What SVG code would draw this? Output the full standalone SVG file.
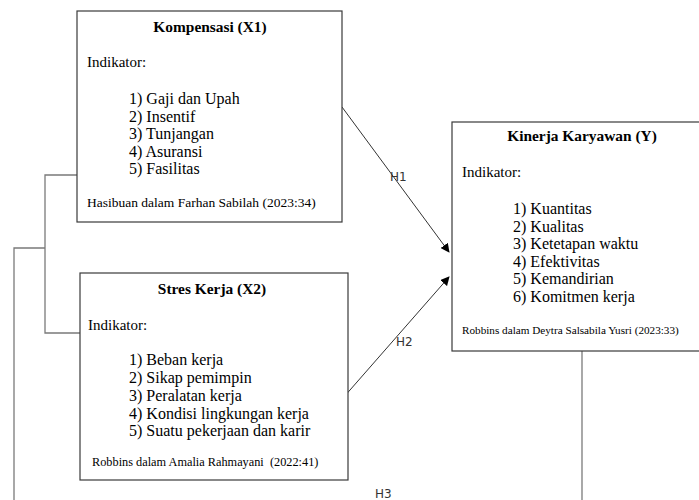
<svg xmlns="http://www.w3.org/2000/svg" width="699" height="500" viewBox="0 0 699 500">
<style>
.box{fill:#fff;stroke:#3a3a3a;stroke-width:1.2}
.t{font-family:'Liberation Serif','Times New Roman',serif;fill:#000}
.title{font-size:15.4px;font-weight:bold;text-anchor:middle}
.ind{font-size:15px}
.lbl{font-size:16px}
.con{fill:none;stroke:#7a7a7a;stroke-width:1.3}
.arr{fill:none;stroke:#333;stroke-width:1;marker-end:url(#ah)}
.h{font-family:'DejaVu Sans',sans-serif;font-size:12px;fill:#333}
</style>
<defs>
<marker id="ah" viewBox="0 0 10 10" refX="9" refY="5" markerWidth="9" markerHeight="9" markerUnits="userSpaceOnUse" orient="auto">
<path d="M0,0 L10,5 L0,10 z" fill="#000"/>
</marker>
</defs>
<g id="connectors">
<polyline class="con" points="77,175 45,175 45,333 80,333"/>
<polyline class="con" points="45,248 14,248 14,500"/>
<line class="con" x1="582" y1="351" x2="582" y2="500"/>
<line class="arr" x1="342" y1="107" x2="449" y2="252"/>
<line class="arr" x1="343" y1="398" x2="449" y2="277"/>
<text class="h" x="390" y="181">H1</text>
<text class="h" x="396" y="346">H2</text>
<text class="h" x="375" y="498" font-size="11px">H3</text>
</g>
<g id="x1">
<rect class="box" x="77" y="11" width="265" height="211"/>
<text class="t title" x="210" y="32">Kompensasi (X1)</text>
<text class="t ind" x="87" y="67">Indikator:</text>
<text class="t lbl" x="129" y="104">1) Gaji dan Upah</text>
<text class="t lbl" x="129" y="122">2) Insentif</text>
<text class="t lbl" x="129" y="139">3) Tunjangan</text>
<text class="t lbl" x="129" y="157">4) Asuransi</text>
<text class="t lbl" x="129" y="174">5) Fasilitas</text>
<text class="t" x="87" y="207" font-size="13.5px">Hasibuan dalam Farhan Sabilah (2023:34)</text>
</g>
<g id="x2">
<rect class="box" x="80" y="273" width="268" height="207"/>
<text class="t title" x="212" y="294">Stres Kerja (X2)</text>
<text class="t ind" x="88" y="330">Indikator:</text>
<text class="t lbl" x="129" y="365">1) Beban kerja</text>
<text class="t lbl" x="129" y="383">2) Sikap pemimpin</text>
<text class="t lbl" x="129" y="401">3) Peralatan kerja</text>
<text class="t lbl" x="129" y="419">4) Kondisi lingkungan kerja</text>
<text class="t lbl" x="129" y="436">5) Suatu pekerjaan dan karir</text>
<text class="t" x="92" y="466" font-size="12.3px" xml:space="preserve">Robbins dalam Amalia Rahmayani  (2022:41)</text>
</g>
<g id="y">
<rect class="box" x="452" y="122" width="262" height="229"/>
<text class="t title" x="582" y="141">Kinerja Karyawan (Y)</text>
<text class="t ind" x="462" y="177">Indikator:</text>
<text class="t lbl" x="513" y="214">1) Kuantitas</text>
<text class="t lbl" x="513" y="232">2) Kualitas</text>
<text class="t lbl" x="513" y="249">3) Ketetapan waktu</text>
<text class="t lbl" x="513" y="267">4) Efektivitas</text>
<text class="t lbl" x="513" y="284">5) Kemandirian</text>
<text class="t lbl" x="513" y="302">6) Komitmen kerja</text>
<text class="t" x="462" y="334" font-size="11.2px">Robbins dalam Deytra Salsabila Yusri (2023:33)</text>
</g>
</svg>
